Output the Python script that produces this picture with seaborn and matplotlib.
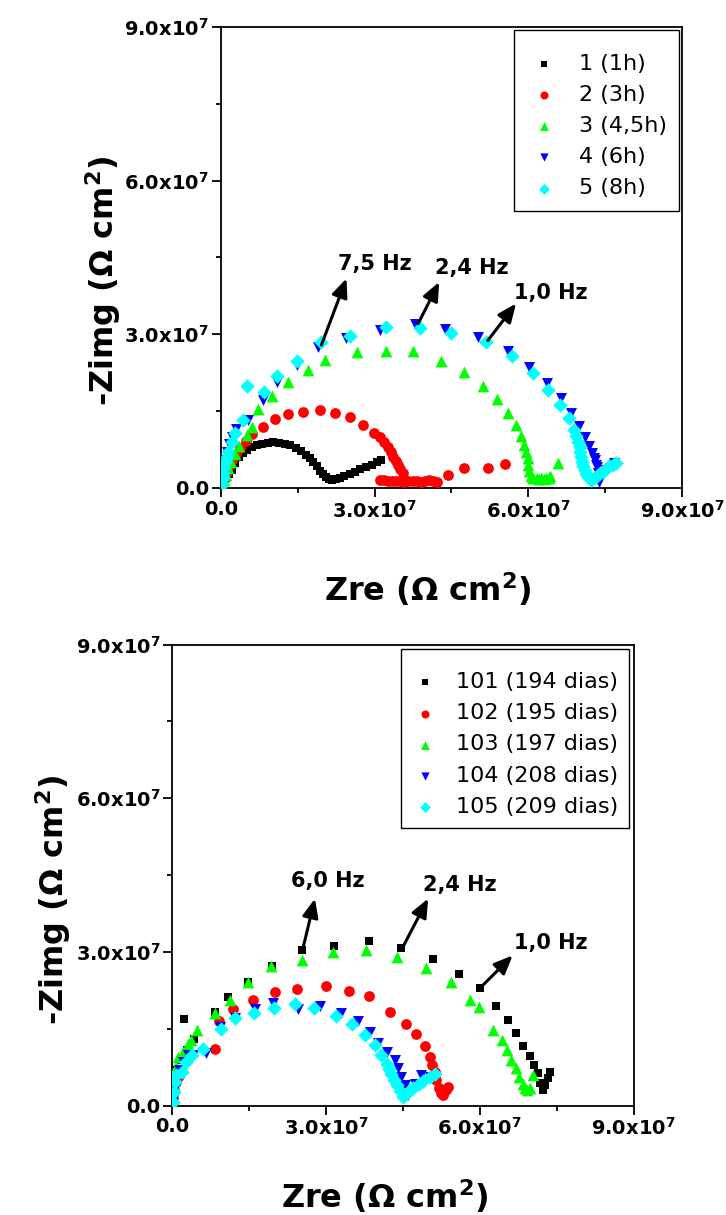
import matplotlib
matplotlib.use("Agg")
import matplotlib.pyplot as plt
import seaborn as sns
import pandas as pd
from matplotlib.ticker import FixedLocator

# ---------------- data (units of 1e7 ohm cm2) ----------------
tick_values = [0, 3, 6, 9]
minor_values = [1.5, 4.5, 7.5]
tick_labels = ["0.0", "3.0x10$^7$", "6.0x10$^7$", "9.0x10$^7$"]

top_labels = ["1 (1h)", "2 (3h)", "3 (4,5h)", "4 (6h)", "5 (8h)"]
bot_labels = ["101 (194 dias)", "102 (195 dias)", "103 (197 dias)", "104 (208 dias)", "105 (209 dias)"]

t1_zre = [0.02, 0.05, 0.10, 0.15, 0.21, 0.28, 0.35, 0.42, 0.50, 0.60, 0.70, 0.80, 0.91, 1.02, 1.13,
          1.24, 1.35, 1.46, 1.56, 1.65, 1.73, 1.80, 1.87, 1.93, 1.99, 2.05, 2.11, 2.17, 2.24, 2.32,
          2.41, 2.51, 2.61, 2.72, 2.83, 2.94, 3.04, 3.13]
t1_zim = [0.02, 0.10, 0.20, 0.28, 0.36, 0.48, 0.60, 0.68, 0.74, 0.80, 0.84, 0.86, 0.88, 0.89, 0.88,
          0.86, 0.83, 0.78, 0.72, 0.65, 0.58, 0.50, 0.42, 0.34, 0.27, 0.22, 0.18, 0.16, 0.17, 0.20,
          0.24, 0.28, 0.32, 0.37, 0.41, 0.45, 0.50, 0.55]

t2_zre = [0.02, 0.04, 0.07, 0.11, 0.16, 0.22, 0.29, 0.37, 0.48, 0.60, 0.82, 1.05, 1.31, 1.60, 1.93,
          2.23, 2.51, 2.77, 2.99, 3.10, 3.18, 3.26, 3.31, 3.36, 3.41, 3.46, 3.50, 3.55,
          3.10, 3.18, 3.26, 3.34, 3.42, 3.50, 3.58, 3.66, 3.74, 3.82, 3.90, 3.98, 4.06, 4.14, 4.21,
          4.44, 4.75, 5.21, 5.55]
t2_zim = [0.04, 0.12, 0.22, 0.32, 0.43, 0.54, 0.66, 0.78, 0.92, 1.05, 1.19, 1.34, 1.44, 1.49, 1.52,
          1.46, 1.38, 1.23, 1.07, 1.00, 0.90, 0.80, 0.70, 0.61, 0.53, 0.45, 0.37, 0.29,
          0.16, 0.15, 0.14, 0.13, 0.14, 0.13, 0.12, 0.14, 0.13, 0.14, 0.12, 0.13, 0.15, 0.13, 0.12,
          0.25, 0.38, 0.38, 0.46]

t3_zre = [0.02, 0.05, 0.09, 0.14, 0.20, 0.27, 0.35, 0.50, 0.60, 0.73, 0.99, 1.30, 1.69, 2.03, 2.66,
          3.23, 3.75, 4.29, 4.75, 5.12, 5.38, 5.60, 5.75, 5.86, 5.92, 5.96, 5.99, 6.00, 6.02, 6.05,
          6.10, 6.16, 6.20, 6.25, 6.30, 6.35, 6.40, 6.43, 6.57]
t3_zim = [0.05, 0.15, 0.26, 0.38, 0.51, 0.66, 0.82, 1.04, 1.19, 1.55, 1.79, 2.07, 2.31, 2.49, 2.66,
          2.67, 2.67, 2.48, 2.27, 1.99, 1.73, 1.46, 1.23, 1.01, 0.84, 0.71, 0.58, 0.45, 0.33, 0.24,
          0.20, 0.19, 0.18, 0.19, 0.18, 0.19, 0.20, 0.23, 0.48]

t4_zre = [0.02, 0.04, 0.06, 0.09, 0.12, 0.16, 0.22, 0.30, 0.53, 0.82, 1.09, 1.48, 1.90, 2.45, 3.10,
          3.78, 4.37, 5.02, 5.60, 6.02, 6.37, 6.64, 6.84, 6.98, 7.11, 7.19, 7.25, 7.28, 7.31, 7.33,
          7.35, 7.36, 7.37, 7.38, 7.41, 7.52, 7.68]
t4_zim = [0.10, 0.25, 0.40, 0.55, 0.70, 0.85, 1.00, 1.15, 1.33, 1.72, 2.07, 2.40, 2.75, 2.92, 3.09,
          3.21, 3.11, 2.94, 2.68, 2.36, 2.05, 1.75, 1.46, 1.21, 1.00, 0.82, 0.68, 0.58, 0.55, 0.45,
          0.40, 0.30, 0.22, 0.12, 0.23, 0.35, 0.48]

t5_zre = [0.02, 0.03, 0.04, 0.06, 0.08, 0.11, 0.14, 0.21, 0.27, 0.43, 0.50, 0.84, 1.10, 1.48, 1.95,
          2.51, 3.23, 3.88, 4.50, 5.17, 5.69, 6.09, 6.38, 6.62, 6.80, 6.90, 6.93, 6.97, 7.00, 7.01,
          7.03, 7.05, 7.07, 7.10, 7.13, 7.16, 7.20, 7.23, 7.27, 7.32, 7.38, 7.45, 7.52, 7.58, 7.65, 7.71]
t5_zim = [0.08, 0.20, 0.29, 0.40, 0.51, 0.61, 0.71, 0.90, 1.07, 1.33, 1.99, 1.88, 2.18, 2.48, 2.85,
          2.96, 3.14, 3.13, 3.02, 2.85, 2.57, 2.25, 1.91, 1.62, 1.36, 1.14, 1.02, 0.90, 0.80, 0.71,
          0.60, 0.51, 0.43, 0.35, 0.28, 0.22, 0.18, 0.16, 0.18, 0.22, 0.27, 0.32, 0.37, 0.42, 0.45, 0.48]

b1_zre = [0.02, 0.04, 0.07, 0.15, 0.28, 0.42, 0.22, 0.83, 1.09, 1.48, 1.95, 2.52, 3.15, 3.84, 4.47,
          5.08, 5.60, 6.01, 6.32, 6.55, 6.70, 6.85, 6.97, 7.05, 7.13, 7.18, 7.23, 7.28, 7.33, 7.36]
b1_zim = [0.20, 0.46, 0.69, 0.89, 1.08, 1.29, 1.68, 1.83, 2.12, 2.41, 2.72, 3.04, 3.11, 3.21, 3.08,
          2.87, 2.57, 2.29, 1.95, 1.67, 1.41, 1.16, 0.96, 0.79, 0.63, 0.44, 0.30, 0.40, 0.54, 0.66]

b2_zre = [0.01, 0.03, 0.05, 0.07, 0.13, 0.83, 0.91, 1.19, 1.58, 2.00, 2.44, 3.00, 3.45, 3.84, 4.25,
          4.55, 4.75, 4.92, 5.02, 5.07, 5.12, 5.15, 5.20, 5.25, 5.28, 5.33, 5.38]
b2_zim = [0.14, 0.30, 0.56, 0.46, 0.57, 1.10, 1.65, 1.88, 2.07, 2.22, 2.28, 2.33, 2.24, 2.13, 1.82,
          1.60, 1.39, 1.16, 0.95, 0.80, 0.65, 0.50, 0.35, 0.25, 0.20, 0.30, 0.37]

b3_zre = [0.01, 0.02, 0.03, 0.06, 0.11, 0.20, 0.31, 0.37, 0.47, 0.83, 1.12, 1.48, 1.93, 2.52, 3.13,
          3.77, 4.38, 4.94, 5.44, 5.80, 5.99, 6.25, 6.44, 6.53, 6.61, 6.70, 6.77, 6.84, 6.89, 6.93,
          6.98, 7.03]
b3_zim = [0.15, 0.40, 0.60, 0.76, 0.95, 1.05, 1.21, 1.28, 1.47, 1.80, 2.07, 2.41, 2.72, 2.84, 3.00,
          3.03, 2.90, 2.69, 2.41, 2.06, 1.93, 1.47, 1.28, 1.08, 0.89, 0.73, 0.56, 0.43, 0.34, 0.30,
          0.35, 0.59]

b4_zre = [0.01, 0.03, 0.07, 0.13, 0.20, 0.30, 0.40, 0.65, 0.93, 1.22, 1.61, 1.96, 2.45, 2.88, 3.28,
          3.62, 3.85, 4.01, 4.19, 4.34, 4.40, 4.47, 4.53, 4.60, 4.73, 4.86, 5.02]
b4_zim = [0.11, 0.30, 0.50, 0.69, 0.85, 0.98, 0.98, 1.02, 1.54, 1.70, 1.89, 2.00, 1.88, 1.94, 1.81,
          1.65, 1.44, 1.22, 1.05, 0.89, 0.73, 0.56, 0.40, 0.20, 0.43, 0.59, 0.56]

b5_zre = [0.01, 0.02, 0.04, 0.07, 0.18, 0.26, 0.38, 0.60, 0.95, 1.22, 1.59, 1.98, 2.39, 2.77, 3.20,
          3.51, 3.75, 3.95, 4.08, 4.19, 4.23, 4.27, 4.33, 4.38, 4.44, 4.50, 4.56, 4.63, 4.70, 4.82,
          4.90, 5.02, 5.12]
b5_zim = [0.07, 0.26, 0.46, 0.59, 0.66, 0.85, 0.98, 1.11, 1.50, 1.71, 1.81, 1.91, 1.99, 1.90, 1.74,
          1.59, 1.37, 1.18, 0.98, 0.81, 0.71, 0.61, 0.50, 0.40, 0.28, 0.17, 0.22, 0.30, 0.35, 0.43,
          0.48, 0.56, 0.61]

# ---------------- styles ----------------
colors = ["#000000", "#FF0000", "#00FF00", "#0000FF", "#00FFFF"]
markers = ["s", "o", "^", "v", "D"]
sizes = [38, 60, 72, 62, 54]

sns.set_theme(style="ticks")
plt.rcParams["font.family"] = ["DejaVu Sans"]
plt.rcParams["mathtext.fontset"] = "dejavusans"
plt.rcParams["mathtext.default"] = "bf"
for key in ["text.color", "axes.labelcolor", "xtick.color", "ytick.color", "axes.edgecolor"]:
    plt.rcParams[key] = "black"

fig = plt.figure(figsize=(7.26, 12.15), dpi=100)
ax_top = fig.add_axes([0.3044, 0.5984, 0.635, 0.3794])
ax_bot = fig.add_axes([0.2376, 0.0901, 0.635, 0.3794])


def draw_panel(ax, series, labels, leg_kw):
    for i, (zre, zim) in enumerate(series):
        df = pd.DataFrame({"zre": zre, "zim": zim})
        sns.scatterplot(data=df, x="zre", y="zim", ax=ax, color=colors[i], marker=markers[i],
                        s=sizes[i], linewidth=0, label=labels[i], zorder=3 + i)
    ax.set_xlim(0, 9)
    ax.set_ylim(0, 9)
    for axis in (ax.xaxis, ax.yaxis):
        axis.set_major_locator(FixedLocator(tick_values))
        axis.set_minor_locator(FixedLocator(minor_values))
    ax.set_xticklabels(tick_labels, fontsize=14, fontweight="bold")
    ax.set_yticklabels(tick_labels, fontsize=14, fontweight="bold")
    ax.tick_params(which="major", direction="out", length=6.5, width=1.3, pad=2,
                   top=False, right=False, color="black", labelcolor="black")
    ax.tick_params(which="minor", direction="out", length=3.5, width=1.3,
                   top=False, right=False, color="black")
    for sp in ax.spines.values():
        sp.set_linewidth(1.3)
        sp.set_color("black")
    ax.set_xlabel("Zre (\u03a9 cm$^2$)", fontsize=23, fontweight="bold", color="black")
    ax.set_ylabel("-Zimg (\u03a9 cm$^2$)", fontsize=23, fontweight="bold", color="black")
    # a tiny blank title only adds the extra top padding seen in the original legend boxes
    leg = ax.legend(loc="upper right", fontsize=16, frameon=True, fancybox=False,
                    edgecolor="black", framealpha=1, markerscale=0.75,
                    labelspacing=0.5, title=" ", title_fontsize=1, **leg_kw)
    leg.get_frame().set_linewidth(1.0)
    for t in leg.get_texts():
        t.set_color("black")


def arrow(ax, tail, head):
    ax.annotate("", xy=head, xytext=tail,
                arrowprops=dict(arrowstyle="-|>,head_length=0.7,head_width=0.3", color="black",
                                lw=2.2, mutation_scale=16, shrinkA=0, shrinkB=0), zorder=10)


draw_panel(ax_top, [(t1_zre, t1_zim), (t2_zre, t2_zim), (t3_zre, t3_zim),
                    (t4_zre, t4_zim), (t5_zre, t5_zim)], top_labels,
           dict(borderpad=0.55, handlelength=1.6, handletextpad=0.8, borderaxespad=0.12))
draw_panel(ax_bot, [(b1_zre, b1_zim), (b2_zre, b2_zim), (b3_zre, b3_zim),
                    (b4_zre, b4_zim), (b5_zre, b5_zim)], bot_labels,
           dict(borderpad=0.5, handlelength=1.2, handletextpad=0.77, borderaxespad=0.2))

ax_top.xaxis.set_label_coords(0.449, -0.178)
ax_top.yaxis.set_label_coords(-0.213, 0.449)
ax_bot.xaxis.set_label_coords(0.461, -0.155)
ax_bot.yaxis.set_label_coords(-0.215, 0.446)

# frequency annotations
anno_kw = dict(ha="center", va="center", fontsize=15, fontweight="bold", zorder=11, color="black")
ax_top.text(3.00, 4.37, "7,5 Hz", **anno_kw)
arrow(ax_top, (1.96, 2.79), (2.45, 4.09))
ax_top.text(4.90, 4.29, "2,4 Hz", **anno_kw)
arrow(ax_top, (3.85, 3.21), (4.26, 4.02))
ax_top.text(6.43, 3.81, "1,0 Hz", **anno_kw)
arrow(ax_top, (5.21, 2.88), (5.76, 3.60))

ax_bot.text(3.04, 4.39, "6,0 Hz", **anno_kw)
arrow(ax_bot, (2.54, 3.04), (2.78, 4.04))
ax_bot.text(5.60, 4.31, "2,4 Hz", **anno_kw)
arrow(ax_bot, (4.50, 3.10), (4.99, 4.04))
ax_bot.text(7.38, 3.18, "1,0 Hz", **anno_kw)
arrow(ax_bot, (6.03, 2.32), (6.64, 2.93))

fig.savefig("out.png", dpi=100, facecolor="white")
